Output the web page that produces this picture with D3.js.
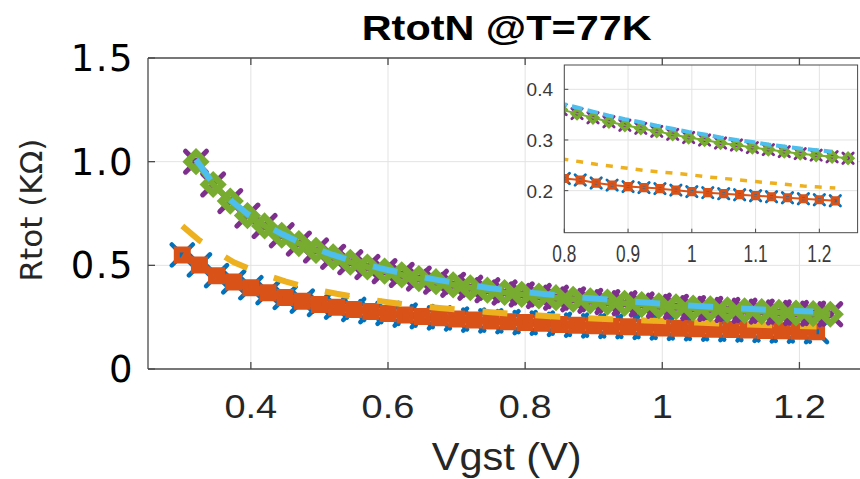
<!DOCTYPE html>
<html>
<head>
<meta charset="utf-8">
<script src="https://cdn.jsdelivr.net/npm/d3@7"></script>
<style>
body { margin: 0; background: #fff; }
svg { display: block; }
</style>
</head>
<body>
<div id="chart"></div>
<script>
// DATA
// measured points, high curve (purple x + green diamonds)
var vgstHi = [0.320, 0.345, 0.370, 0.395, 0.420, 0.445, 0.470, 0.495, 0.520, 0.545,
              0.570, 0.595, 0.620, 0.645, 0.670, 0.695, 0.720, 0.745, 0.770, 0.795,
              0.820, 0.845, 0.870, 0.895, 0.920, 0.945, 0.970, 0.995, 1.020, 1.045,
              1.070, 1.095, 1.120, 1.145, 1.170, 1.195, 1.220, 1.245];
var rtotHi = [1.000, 0.890, 0.810, 0.740, 0.690, 0.645, 0.605, 0.572, 0.541, 0.515,
              0.492, 0.472, 0.454, 0.436, 0.421, 0.406, 0.392, 0.380, 0.369, 0.360,
              0.352, 0.344, 0.336, 0.329, 0.323, 0.317, 0.311, 0.305, 0.300, 0.294,
              0.290, 0.285, 0.281, 0.277, 0.273, 0.270, 0.267, 0.264];

// measured points, low curve (blue x + orange squares)
var vgstLo = [0.300, 0.325, 0.350, 0.375, 0.400, 0.425, 0.450, 0.475, 0.500, 0.525,
              0.550, 0.575, 0.600, 0.625, 0.650, 0.675, 0.700, 0.725, 0.750, 0.775,
              0.800, 0.825, 0.850, 0.875, 0.900, 0.925, 0.950, 0.975, 1.000, 1.025,
              1.050, 1.075, 1.100, 1.125, 1.150, 1.175, 1.200, 1.225];
var rtotLo = [0.550, 0.502, 0.450, 0.420, 0.392, 0.368, 0.345, 0.327, 0.311, 0.298,
              0.287, 0.277, 0.268, 0.260, 0.253, 0.247, 0.241, 0.236, 0.232, 0.228,
              0.224, 0.221, 0.215, 0.211, 0.208, 0.206, 0.204, 0.201, 0.198, 0.196,
              0.194, 0.192, 0.190, 0.188, 0.186, 0.184, 0.182, 0.180];

// model curves (dashed)
var vgstModelHi = [0.320, 0.345, 0.370, 0.395, 0.420, 0.445, 0.470, 0.495, 0.520, 0.545,
                   0.570, 0.595, 0.620, 0.645, 0.670, 0.695, 0.720, 0.745, 0.770, 0.795,
                   0.820, 0.845, 0.870, 0.895, 0.920, 0.945, 0.970, 0.995, 1.020, 1.045,
                   1.070, 1.095, 1.120, 1.145, 1.170, 1.195, 1.220];
var rModelHi = [1.010, 0.895, 0.815, 0.748, 0.697, 0.652, 0.613, 0.580, 0.550, 0.524,
                0.501, 0.481, 0.463, 0.446, 0.431, 0.417, 0.404, 0.392, 0.381, 0.372,
                0.364, 0.356, 0.348, 0.341, 0.335, 0.328, 0.322, 0.316, 0.311, 0.305,
                0.300, 0.296, 0.291, 0.287, 0.283, 0.280, 0.277];
var rModelLo = [0.690, 0.620, 0.565, 0.515, 0.480, 0.450, 0.423, 0.400, 0.380, 0.363,
                0.348, 0.334, 0.322, 0.311, 0.302, 0.294, 0.287, 0.280, 0.274, 0.268,
                0.262, 0.257, 0.252, 0.248, 0.244, 0.240, 0.237, 0.234, 0.231, 0.227,
                0.224, 0.221, 0.218, 0.215, 0.212, 0.209, 0.207, 0.205];

var xTicks = [0.4, 0.6, 0.8, 1.0, 1.2];
var xTickLabels = ["0.4", "0.6", "0.8", "1", "1.2"];
var yTicks = [0, 0.5, 1.0, 1.5];
var yTickLabels = ["0", "0.5", "1.0", "1.5"];
var insetXTicks = [0.8, 0.9, 1.0, 1.1, 1.2];
var insetXTickLabels = ["0.8", "0.9", "1", "1.1", "1.2"];
var insetYTicks = [0.2, 0.3, 0.4];
var insetYTickLabels = ["0.2", "0.3", "0.4"];

// matlab colours
var BLUE = "#0072BD", ORANGE = "#D95319", YELLOW = "#EDB120",
    PURPLE = "#7E2F8E", GREEN = "#77AC30", CYAN = "#4DBEEE";

var WIDTH = 860, HEIGHT = 479;
var AX = "#262626", GRID = "#e3e3e3";

// marker / line sizes for the big axes and the inset
var MAIN_STYLE = {
    xLo: 10.5, xLoW: 4.5, loLine: 8, sq: 5.5, sqW: 6, yelW: 6, yelDash: "25,28",
    xHi: 10.5, xHiW: 5, hiLine: 6, dia: 9, diaW: 6.5, cyW: 6, cyDash: "25,28"
};
var INSET_STYLE = {
    xLo: 5.2, xLoW: 2.8, loLine: 2, sq: 3, sqW: 3.2, yelW: 3.5, yelDash: "7,8",
    xHi: 5.2, xHiW: 2.8, hiLine: 2, dia: 4.8, diaW: 3.4, cyW: 4, cyDash: "11,5"
};

var svg = d3.select("#chart").append("svg")
    .attr("width", WIDTH)
    .attr("height", HEIGHT);

// marker shapes
function xMark(r) { return "M" + (-r) + "," + (-r) + "L" + r + "," + r + "M" + (-r) + "," + r + "L" + r + "," + (-r); }
function sqMark(r) { return "M" + (-r) + "," + (-r) + "H" + r + "V" + r + "H" + (-r) + "Z"; }
function diaMark(r) { return "M0," + (-r) + "L" + r + ",0L0," + r + "L" + (-r) + ",0Z"; }

function pts(xs, ys) { return xs.map(function(v, i) { return [v, ys[i]]; }); }

function stretch(sel, f) {
    sel.each(function() {
        var len = this.getComputedTextLength();
        d3.select(this).attr("textLength", len * f).attr("lengthAdjust", "spacingAndGlyphs");
    });
}

// draws the six series into g with the given scales
function drawSeries(g, sx, sy, st) {
    var line = d3.line().x(function(d) { return sx(d[0]); }).y(function(d) { return sy(d[1]); });
    var lo = pts(vgstLo, rtotLo), hi = pts(vgstHi, rtotHi);

    function markers(data, shape, col, sw) {
        g.append("g").selectAll("path")
            .data(data).enter().append("path")
            .attr("transform", function(d) { return "translate(" + sx(d[0]) + "," + sy(d[1]) + ")"; })
            .attr("d", shape)
            .attr("fill", "none")
            .attr("stroke", col)
            .attr("stroke-width", sw)
            .attr("stroke-linecap", "round");
    }
    function path(data, col, w, dash) {
        g.append("path").datum(data)
            .attr("d", line)
            .attr("fill", "none")
            .attr("stroke", col)
            .attr("stroke-width", w)
            .attr("stroke-dasharray", dash || null)
            .attr("stroke-linejoin", "round");
    }

    // 1 blue x
    markers(lo, xMark(st.xLo), BLUE, st.xLoW);
    // 2 orange line + squares
    path(lo, ORANGE, st.loLine);
    markers(lo, sqMark(st.sq), ORANGE, st.sqW);
    // 3 yellow dashed
    path(pts(vgstLo, rModelLo), YELLOW, st.yelW, st.yelDash);
    // 4 purple x
    markers(hi, xMark(st.xHi), PURPLE, st.xHiW);
    // 5 green line + diamonds
    path(hi, GREEN, st.hiLine);
    markers(hi, diaMark(st.dia), GREEN, st.diaW);
    // 6 cyan dashed
    path(pts(vgstModelHi, rModelHi), CYAN, st.cyW, st.cyDash);
}

// MAIN AXES
var L = 148, T = 58, B = 369;
var x = d3.scaleLinear().domain([0.25, 1.3]).range([L, 868]);
var y = d3.scaleLinear().domain([0, 1.5]).range([B, T]);

// grid
svg.append("g").selectAll("line").data(xTicks).enter().append("line")
    .attr("x1", function(d) { return x(d); }).attr("x2", function(d) { return x(d); })
    .attr("y1", T).attr("y2", B).attr("stroke", GRID);
svg.append("g").selectAll("line").data(yTicks.slice(1, 3)).enter().append("line")
    .attr("x1", L).attr("x2", WIDTH).attr("y1", function(d) { return y(d); }).attr("y2", function(d) { return y(d); })
    .attr("stroke", GRID);

// box + inward ticks
var axisG = svg.append("g").attr("stroke", "#4a4a4a").attr("stroke-width", 1.3);
axisG.append("line").attr("x1", L).attr("x2", WIDTH).attr("y1", B).attr("y2", B);
axisG.append("line").attr("x1", L).attr("x2", WIDTH).attr("y1", T).attr("y2", T);
axisG.append("line").attr("x1", L).attr("x2", L).attr("y1", T).attr("y2", B);
axisG.selectAll(".tb").data(xTicks).enter().append("line")
    .attr("x1", function(d) { return x(d); }).attr("x2", function(d) { return x(d); })
    .attr("y1", B).attr("y2", B - 7);
axisG.selectAll(".tt").data(xTicks).enter().append("line")
    .attr("x1", function(d) { return x(d); }).attr("x2", function(d) { return x(d); })
    .attr("y1", T).attr("y2", T + 7);
axisG.selectAll(".tl").data(yTicks).enter().append("line")
    .attr("x1", L).attr("x2", L + 7)
    .attr("y1", function(d) { return y(d); }).attr("y2", function(d) { return y(d); });

// tick labels
svg.append("g").selectAll("text").data(yTicks).enter().append("text")
    .attr("x", 134).attr("y", function(d) { return y(d) + 13; })
    .attr("text-anchor", "end")
    .style("font-family", "'DejaVu Sans', sans-serif").style("font-size", "37px")
    .style("letter-spacing", "1.5px")
    .attr("fill", "#000")
    .text(function(d, i) { return yTickLabels[i]; });

var xl = svg.append("g").selectAll("text").data(xTicks).enter().append("text")
    .attr("x", function(d) { return x(d); }).attr("y", 418)
    .attr("text-anchor", "middle")
    .style("font-family", "'Liberation Sans', Arial, sans-serif").style("font-size", "33px")
    .attr("fill", AX)
    .text(function(d, i) { return xTickLabels[i]; });
stretch(xl, 1.15);

// data
drawSeries(svg.append("g"), x, y, MAIN_STYLE);

// labels
svg.append("text")
    .attr("x", 506.7).attr("y", 40).attr("text-anchor", "middle")
    .style("font-family", "'Liberation Sans', Arial, sans-serif").style("font-size", "35px").style("font-weight", "bold")
    .attr("fill", "#000")
    .attr("textLength", 290).attr("lengthAdjust", "spacingAndGlyphs")
    .text("RtotN @T=77K");

svg.append("text")
    .attr("x", 506.7).attr("y", 470).attr("text-anchor", "middle")
    .style("font-family", "'Liberation Sans', Arial, sans-serif").style("font-size", "39px")
    .attr("fill", AX)
    .attr("textLength", 150).attr("lengthAdjust", "spacingAndGlyphs")
    .text("Vgst (V)");

svg.append("text")
    .attr("transform", "translate(42,210) rotate(-90)")
    .attr("text-anchor", "middle")
    .style("font-family", "'DejaVu Sans', sans-serif").style("font-size", "31px")
    .attr("fill", AX)
    .text("Rtot (KΩ)");

// INSET
var iL = 564.3, iR = 857.6, iT = 65, iB = 232.7;
var ix = d3.scaleLinear().domain([0.8, 1.26]).range([iL, iR]);
var iy = d3.scaleLinear().domain([0.117, 0.448]).range([iB, iT]);

var inset = svg.append("g");
inset.append("rect").attr("x", iL).attr("y", iT).attr("width", iR - iL).attr("height", iB - iT).attr("fill", "#fff");
inset.append("clipPath").attr("id", "insetClip")
    .append("rect").attr("x", iL).attr("y", iT).attr("width", iR - iL).attr("height", iB - iT);

inset.append("g").selectAll("line").data(insetXTicks).enter().append("line")
    .attr("x1", function(d) { return ix(d); }).attr("x2", function(d) { return ix(d); })
    .attr("y1", iT).attr("y2", iB).attr("stroke", GRID);
inset.append("g").selectAll("line").data(insetYTicks).enter().append("line")
    .attr("x1", iL).attr("x2", iR).attr("y1", function(d) { return iy(d); }).attr("y2", function(d) { return iy(d); })
    .attr("stroke", GRID);

drawSeries(inset.append("g").attr("clip-path", "url(#insetClip)"), ix, iy, INSET_STYLE);

var iAxis = inset.append("g").attr("stroke", "#4a4a4a").attr("stroke-width", 1);
iAxis.append("rect").attr("x", iL).attr("y", iT).attr("width", iR - iL).attr("height", iB - iT).attr("fill", "none");
iAxis.selectAll(".ix").data(insetXTicks).enter().append("line")
    .attr("x1", function(d) { return ix(d); }).attr("x2", function(d) { return ix(d); })
    .attr("y1", iB).attr("y2", iB - 4);
iAxis.selectAll(".iy").data(insetYTicks).enter().append("line")
    .attr("x1", iL).attr("x2", iL + 4)
    .attr("y1", function(d) { return iy(d); }).attr("y2", function(d) { return iy(d); });

inset.append("g").selectAll("text").data(insetYTicks).enter().append("text")
    .attr("x", 553).attr("y", function(d) { return iy(d) + 7; })
    .attr("text-anchor", "end")
    .style("font-family", "'Liberation Sans', Arial, sans-serif").style("font-size", "19px")
    .attr("fill", "#3a3a3a")
    .text(function(d, i) { return insetYTickLabels[i]; });

var ixl = inset.append("g").selectAll("text").data(insetXTicks).enter().append("text")
    .attr("x", function(d) { return ix(d); }).attr("y", 262)
    .attr("text-anchor", "middle")
    .style("font-family", "'Liberation Sans', Arial, sans-serif").style("font-size", "23px")
    .attr("fill", "#3a3a3a")
    .text(function(d, i) { return insetXTickLabels[i]; });
stretch(ixl, 0.75);
</script>
</body>
</html>
